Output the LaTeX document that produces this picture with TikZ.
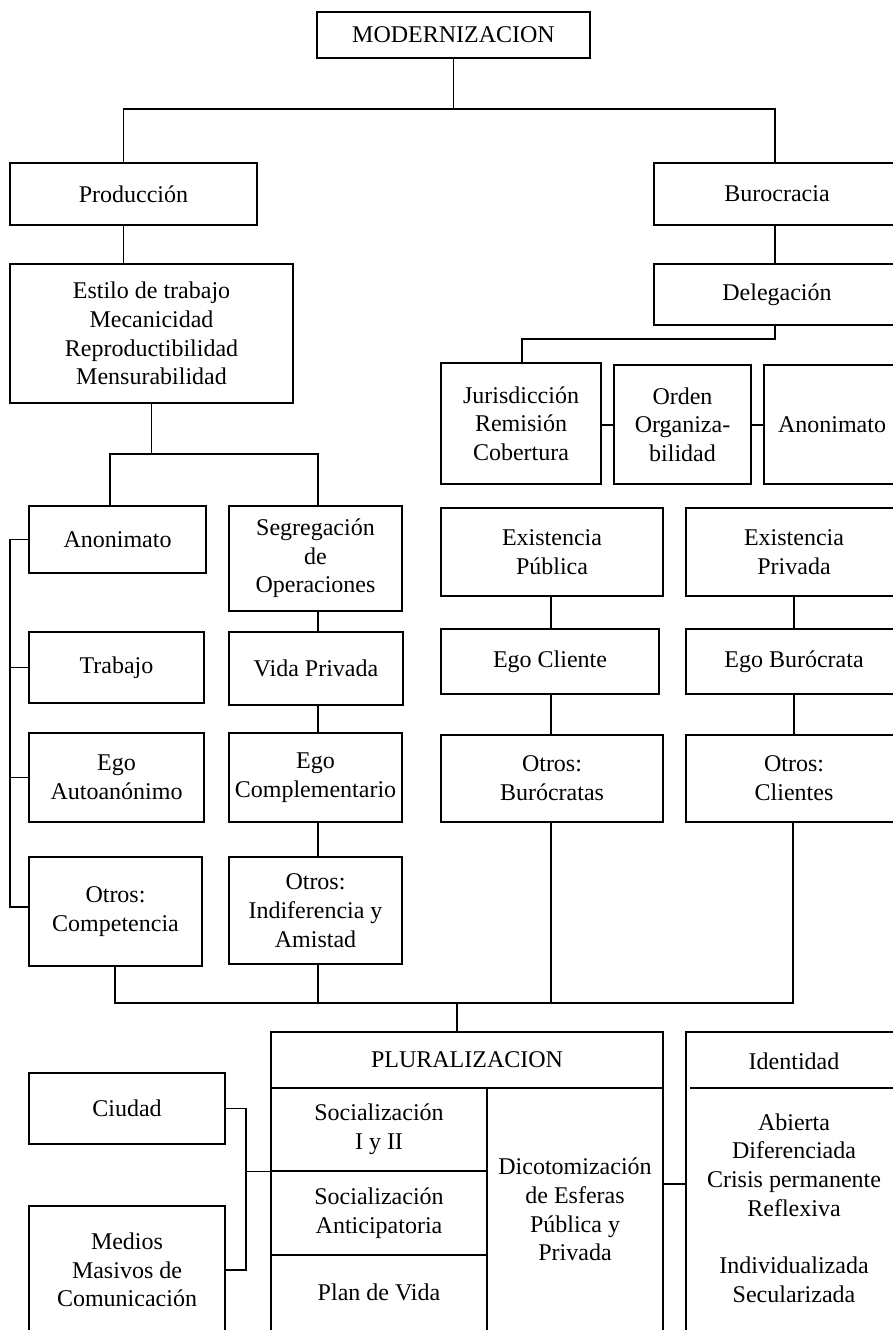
\documentclass[tikz,border=0pt]{standalone}
\usepackage{fontspec}
\setmainfont{Liberation Serif}
\tikzset{
  box/.style={draw, line width=1.2pt, inner sep=1pt, align=center, font=\fontsize{24}{28.7}\selectfont},
  lbl/.style={inner sep=0pt, align=center, font=\fontsize{24}{28.7}\selectfont},
  conn/.style={line width=1.2pt},
}
\newcommand\bx[6]{%
  \pgfmathsetmacro\bxcx{(#2+#4)/2}%
  \pgfmathsetmacro\bxcy{(#3+#5)/2}%
  \pgfmathsetmacro\bxw{#4-#2}%
  \pgfmathsetmacro\bxh{#5-#3}%
  \node[box, minimum width=\bxw pt, minimum height=\bxh pt] (#1) at (\bxcx,\bxcy) {#6};}
\begin{document}
\begin{tikzpicture}[x=1pt,y=-1pt]
\useasboundingbox (0,0) rectangle (893,1330);
\clip (0,0) rectangle (893,1330);
% boxes
\bx{mod}{317}{12}{590}{58}{MODERNIZACION}
\bx{prod}{10}{163}{257}{225}{Producción}
\bx{buro}{654}{163}{900}{225}{Burocracia}
\bx{estilo}{10}{264}{293}{403}{Estilo de trabajo\\Mecanicidad\\Reproductibilidad\\Mensurabilidad}
\bx{deleg}{654}{264}{900}{325}{Delegación}
\bx{juris}{441}{363}{601}{484}{Jurisdicción\\Remisión\\Cobertura}
\bx{orden}{614}{365}{751}{484}{Orden\\Organiza-\\bilidad}
\bx{anon2}{764}{365}{900}{484}{Anonimato}
\bx{anon1}{29}{506}{206}{573}{Anonimato}
\bx{segreg}{229}{506}{402}{611}{Segregación\\de\\Operaciones}
\bx{trabajo}{29}{632}{204}{703}{Trabajo}
\bx{vida}{229}{632}{403}{705}{Vida Privada}
\bx{egoa}{29}{733}{204}{822}{Ego\\Autoanónimo}
\bx{egoc}{229}{733}{402}{822}{Ego\\Complementario}
\bx{otroscomp}{29}{857}{202}{966}{Otros:\\Competencia}
\bx{otrosind}{229}{857}{402}{964}{Otros:\\Indiferencia y\\Amistad}
\bx{expub}{441}{508}{663}{596}{Existencia\\Pública}
\bx{expriv}{686}{508}{902}{596}{Existencia\\Privada}
\bx{egocli}{441}{629}{659}{694}{Ego Cliente}
\bx{egobur}{686}{629}{902}{694}{Ego Burócrata}
\bx{otrosbur}{441}{735}{663}{822}{Otros:\\Burócratas}
\bx{otroscli}{686}{735}{902}{822}{Otros:\\Clientes}
\bx{plural}{271}{1032}{663}{1088}{PLURALIZACION}
\bx{soc1}{271}{1088}{487}{1171}{Socialización\\I y II}
\bx{soc2}{271}{1171}{487}{1255}{Socialización\\Anticipatoria}
\bx{plan}{271}{1255}{487}{1345}{}
\bx{dicot}{487}{1088}{663}{1345}{}
\bx{ident}{686}{1032}{902}{1345}{}
\bx{ciudad}{29}{1073}{225}{1144}{Ciudad}
\bx{medios}{29}{1206}{225}{1334}{Medios\\Masivos de\\Comunicación}
% texts in cut-off boxes
\node[lbl] (plant) at (379,1292) {Plan de Vida};
\node[lbl] (dicott) at (575,1209.5) {Dicotomización\\de Esferas\\Pública y\\Privada};
\node[lbl] (identh) at (794,1061) {Identidad};
\node[lbl] (identb) at (794,1208) {Abierta\\Diferenciada\\Crisis permanente\\Reflexiva\\[28.7pt]Individualizada\\Secularizada};
\coordinate (isep) at (690,1088);
\draw[conn] (isep) -- (ident.east |- isep);
% connectors
\coordinate (cL) at (123.5,109);
\coordinate (cR) at (775,109);
\draw[conn] (mod.south) |- (cL) -- (prod.north -| cL);
\draw[conn] (mod.south) |- (cR) -- (buro.north -| cR);
\draw[conn] (prod.south -| cL) -- (estilo.north -| cL);
\draw[conn] (buro.south -| cR) -- (deleg.north -| cR);
\coordinate (cJ) at (522,339);
\draw[conn] (deleg.south -| cR) |- (cJ) -- (juris.north -| cJ);
\coordinate (hJ) at (0,425);
\draw[conn] (juris.east |- hJ) -- (orden.west |- hJ);
\draw[conn] (orden.east |- hJ) -- (anon2.west |- hJ);
\coordinate (cA) at (110,454);
\coordinate (cS) at (318,454);
\draw[conn] (estilo.south) -- (estilo.south |- cA);
\draw[conn] (anon1.north -| cA) |- (cS) -- (segreg.north -| cS);
\draw[conn] (segreg.south -| cS) -- (vida.north -| cS);
\draw[conn] (vida.south -| cS) -- (egoc.north -| cS);
\draw[conn] (egoc.south -| cS) -- (otrosind.north -| cS);
\coordinate (lb) at (10,0);
\coordinate (ocw) at ([yshift=4.5pt]otroscomp.west);
\draw[conn] (anon1.west) -- (anon1.west -| lb) -- (ocw -| lb) -- (ocw);
\draw[conn] (trabajo.west) -- (trabajo.west -| lb);
\draw[conn] (egoa.west) -- (egoa.west -| lb);
\coordinate (cP) at (551,0);
\coordinate (cQ) at (794,0);
\draw[conn] (expub.south -| cP) -- (egocli.north -| cP);
\draw[conn] (egocli.south -| cP) -- (otrosbur.north -| cP);
\draw[conn] (expriv.south -| cQ) -- (egobur.north -| cQ);
\draw[conn] (egobur.south -| cQ) -- (otroscli.north -| cQ);
\coordinate (g1) at (115,1003);
\coordinate (g4) at (793,1003);
\coordinate (gs) at (457,1003);
\draw[conn] (otroscomp.south -| g1) -- (g1) -- (g4) -- (otroscli.south -| g4);
\draw[conn] (otrosind.south -| cS) -- (cS |- g1);
\draw[conn] (otrosbur.south -| cP) -- (cP |- g1);
\draw[conn] (gs) -- (plural.north -| gs);
\coordinate (hI) at (0,1184);
\draw[conn] (dicot.east |- hI) -- (ident.west |- hI);
\coordinate (bk) at (246,0);
\draw[conn] (ciudad.east) -| (bk |- medios.east) -- (medios.east);
\draw[conn] (bk |- soc1.south) -- (soc1.south west);
\end{tikzpicture}
\end{document}
